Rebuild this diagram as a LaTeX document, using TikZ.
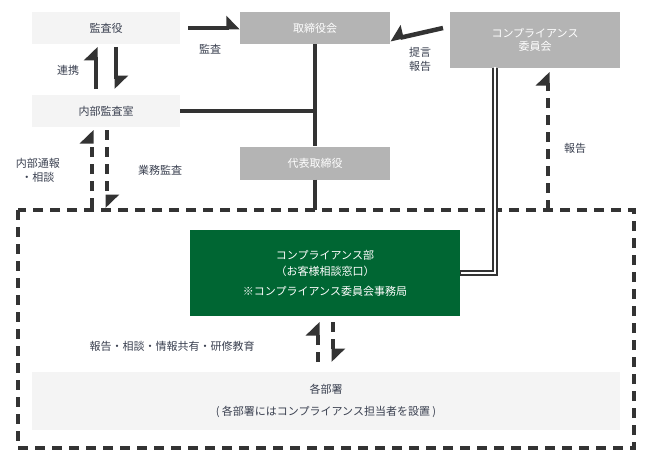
\documentclass[tikz,border=0pt]{standalone}
\usepackage{fontspec}
\setmainfont{Noto Sans CJK JP}
\usetikzlibrary{arrows.meta,calc}
\definecolor{ink}{HTML}{333333}
\definecolor{txt}{HTML}{3A4050}
\definecolor{pale}{HTML}{F4F4F4}
\definecolor{mid}{HTML}{B4B4B4}
\definecolor{deep}{HTML}{006633}
\tikzset{
  palebox/.style={fill=pale,text=txt,minimum height=32pt,font=\fontsize{11}{13}\selectfont},
  midbox/.style={fill=mid,text=white,minimum height=32pt,font=\fontsize{11}{13}\selectfont},
  lbl/.style={text=txt,font=\fontsize{11}{14}\selectfont,align=center},
  fat/.style={ink,line width=4.5pt},
  dfat/.style={ink,line width=4.5pt,dash pattern=on 10pt off 7pt},
  harp/.style={-{Triangle[harpoon,length=12pt,width=24pt]}},
}
\begin{document}
\begin{tikzpicture}[x=1pt,y=-1pt]
  \useasboundingbox (0,0) rectangle (650,460);
  % boxes
  \node[palebox,minimum width=148pt] (kansa) at (106,28) {監査役};
  \node[midbox,minimum width=150pt] (board) at (315,28) {取締役会};
  \node[midbox,minimum width=170pt,minimum height=56pt,align=center] (comm) at (535,40) {コンプライアンス\\委員会};
  \node[palebox,minimum width=148pt] (audit) at (106,111) {内部監査室};
  \node[midbox,minimum width=150pt,minimum height=33pt] (ceo) at (315,163) {代表取締役};
  \draw[dfat] (18,210) rectangle (634,448);
  \node[fill=deep,text=white,minimum width=270pt,minimum height=86pt,align=center,
        font=\fontsize{11}{16}\selectfont] (dept) at (325,273)
        {コンプライアンス部\\（お客様相談窓口）\\[4pt]※コンプライアンス委員会事務局};
  \node[palebox,minimum width=588pt,minimum height=58pt,align=center,
        font=\fontsize{11}{22}\selectfont] (each) at (326,401)
        {各部署\\( 各部署にはコンプライアンス担当者を設置 )};
  \coordinate (top) at (315,210);
  \coordinate (rtop) at (548,210);
  % solid links
  \draw[fat] (board.south) -- (ceo.north);
  \draw[fat] (audit.east) -- (audit.east -| board.south);
  \draw[fat] (ceo.south) -- (top);
  \draw[ink,line width=6pt] (495,68) |- (dept.east);
  \draw[white,line width=2pt] (495,67) |- ($(dept.east)+(1,0)$);
  % arrows
  \draw[fat,harp] (188,28) -- (board.west);
  \node[lbl] at (210,49) {監査};
  \draw[fat,-{Triangle[harpoon,swap,length=12pt,width=24pt]}] (443,28) -- (comm.west -| board.east);
  \node[lbl] at (420,59) {提言\\報告};
  \draw[fat,harp] (96,89) -- (96,47);
  \draw[fat,harp] (116,47) -- (116,89);
  \node[lbl] at (68,70) {連携};
  \draw[dfat,harp] (92,208) -- (92,130);
  \draw[dfat,harp] (107,130) -- (107,208);
  \node[lbl] at (38,170) {内部通報\\・相談};
  \node[lbl] at (160,170) {業務監査};
  \draw[dfat,harp] (rtop) -- (548,72);
  \node[lbl] at (575,148) {報告};
  \draw[dfat,harp] (318,362) -- (318,322);
  \draw[dfat,harp] (333,322) -- (333,362);
  \node[lbl] at (172,346) {報告・相談・情報共有・研修教育};
\end{tikzpicture}
\end{document}
